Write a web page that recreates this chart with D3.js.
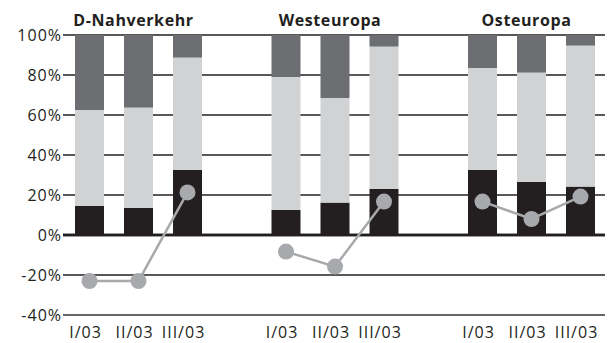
<!DOCTYPE html>
<html>
<head>
<meta charset="utf-8">
<script src="https://cdn.jsdelivr.net/npm/d3@7/dist/d3.min.js"></script>
<style>
  html, body { margin: 0; padding: 0; background: #fff; }
  svg { display: block; }
  text { font-family: "Open Sans", "DejaVu Sans", sans-serif; fill: #231f20; }
</style>
</head>
<body>
<svg id="chart" width="615" height="343"></svg>
<script>
// Regions and quarters
const regions = ["D-Nahverkehr", "Westeuropa", "Osteuropa"];
const quarters = ["I/03", "II/03", "III/03"];

// Stacked shares (%) per region, one entry per quarter
const shareBottom = [
  [14.5, 13.5, 32.5],
  [12.5, 16.2, 23.0],
  [32.5, 26.5, 24.2]
];
const shareMiddle = [
  [48.0, 50.2, 56.2],
  [66.5, 52.3, 71.2],
  [51.0, 54.7, 70.5]
];
const shareTop = [
  [37.5, 36.3, 11.3],
  [21.0, 31.5, 5.8],
  [16.5, 18.8, 5.3]
];

// Change rates (%) per region, one entry per quarter
const changeRate = [
  [-23.0, -23.0, 21.3],
  [-8.3, -15.8, 16.7],
  [16.7, 8.0, 19.2]
];

const yTicks = [-40, -20, 0, 20, 40, 60, 80, 100];

const colors = { bottom: "#231f20", middle: "#d1d2d4", top: "#6d6e71", line: "#a7a9ac" };

const svg = d3.select("#chart");
const plotLeft = 63, plotRight = 605;

const y = d3.scaleLinear().domain([-40, 100]).range([315, 35]);

const xGroup = d3.scaleBand().domain(regions).range([75, 595])
  .paddingInner(69.5 / 196.5).paddingOuter(0);
const xQuarter = d3.scaleBand().domain(quarters).range([0, xGroup.bandwidth()])
  .paddingInner(20 / 49).paddingOuter(0);

// Gridlines
svg.append("g").selectAll("line").data(yTicks).join("line")
  .attr("x1", plotLeft).attr("x2", plotRight)
  .attr("y1", d => y(d)).attr("y2", d => y(d))
  .attr("stroke", d => d === -40 ? "#666" : "#231f20")
  .attr("stroke-width", d => d === 0 ? 2.5 : (d === -40 ? 2 : 1.3));

// Y axis labels
svg.append("g").selectAll("text").data(yTicks).join("text")
  .attr("x", 62).attr("y", d => y(d)).attr("dy", "0.36em")
  .attr("text-anchor", "end")
  .style("font-size", "16px").style("letter-spacing", "1px")
  .text(d => d + "%");

// Bars, group titles and quarter labels
regions.forEach((r, gi) => {
  const g = svg.append("g").attr("transform", `translate(${xGroup(r)},0)`);
  quarters.forEach((q, qi) => {
    const b = shareBottom[gi][qi], m = shareMiddle[gi][qi], t = shareTop[gi][qi];
    const segs = [
      { v0: 0, v1: b, c: colors.bottom },
      { v0: b, v1: b + m, c: colors.middle },
      { v0: b + m, v1: b + m + t, c: colors.top }
    ];
    g.selectAll(null).data(segs).join("rect")
      .attr("x", xQuarter(q)).attr("width", xQuarter.bandwidth())
      .attr("y", d => y(d.v1)).attr("height", d => y(d.v0) - y(d.v1))
      .attr("fill", d => d.c);
  });
  svg.append("text")
    .attr("x", xGroup(r) + xGroup.bandwidth() / 2 - 5).attr("y", 26)
    .attr("text-anchor", "middle")
    .style("font-size", "16px").style("font-weight", "bold").style("letter-spacing", "0.6px")
    .text(r);
  svg.append("g").selectAll("text").data(quarters).join("text")
    .attr("x", q => xGroup(r) + xQuarter(q) + xQuarter.bandwidth() / 2 - 4)
    .attr("y", 338)
    .attr("text-anchor", "middle")
    .style("font-size", "16px").style("letter-spacing", "1px")
    .text(q => q);
});

// 0% baseline over the bar bottoms
svg.append("line").attr("x1", plotLeft).attr("x2", plotRight)
  .attr("y1", y(0)).attr("y2", y(0))
  .attr("stroke", "#231f20").attr("stroke-width", 2.5);

// Change-rate lines with circle markers
regions.forEach((r, gi) => {
  const pts = quarters.map((q, qi) => [xGroup(r) + xQuarter(q) + xQuarter.bandwidth() / 2, y(changeRate[gi][qi])]);
  svg.append("path").attr("d", d3.line()(pts))
    .attr("fill", "none").attr("stroke", colors.line).attr("stroke-width", 2.5);
  svg.append("g").selectAll("circle").data(pts).join("circle")
    .attr("cx", d => d[0]).attr("cy", d => d[1]).attr("r", 8)
    .attr("fill", colors.line);
});
</script>
</body>
</html>
